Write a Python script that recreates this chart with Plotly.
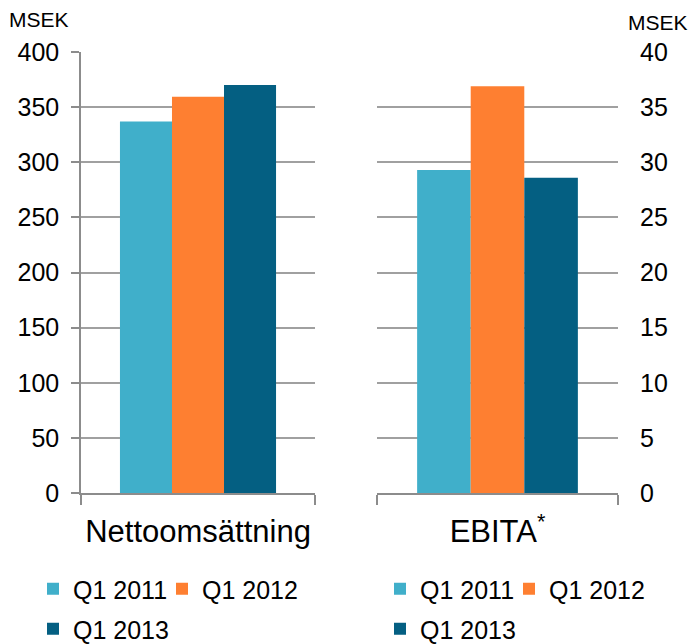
import plotly.graph_objects as go

categories = ["Nettoomsättning", "EBITA<sup>*</sup>"]
series = ["Q1 2011", "Q1 2012", "Q1 2013"]
netto_values = [337, 359.5, 370]
ebita_values = [29.3, 36.9, 28.6]
colors = ["#40AFCA", "#FE7F31", "#045F82"]
left_ticks = [0, 50, 100, 150, 200, 250, 300, 350, 400]
right_ticks = [0, 5, 10, 15, 20, 25, 30, 35, 40]

W, H = 690, 644
FONT = "Liberation Sans, Arial, sans-serif"
GRID = "#a0a0a0"
AXIS = "#8c8c8c"

fig = go.Figure()

left_legends = ["legend", "legend2", "legend3"]
right_legends = ["legend4", "legend5", "legend6"]

for i, name in enumerate(series):
    fig.add_trace(go.Bar(
        x=[categories[0]], y=[netto_values[i]], name=name,
        marker=dict(color=colors[i], line=dict(width=0)),
        xaxis="x", yaxis="y", legend=left_legends[i],
    ))
for i, name in enumerate(series):
    fig.add_trace(go.Bar(
        x=[categories[1]], y=[ebita_values[i]], name=name,
        marker=dict(color=colors[i], line=dict(width=0)),
        xaxis="x2", yaxis="y2", legend=right_legends[i],
    ))

ydom = [1 - 493 / H, 1 - 52 / H]


def leg(xpx, ypx):
    return dict(orientation="h", xref="paper", yref="paper",
                x=xpx / W, y=1 - ypx / H, xanchor="left", yanchor="middle",
                font=dict(size=25, family=FONT, color="#000"),
                bgcolor="rgba(0,0,0,0)", borderwidth=0)


ROW1, ROW2 = 589, 629

fig.update_layout(
    width=W, height=H,
    margin=dict(l=0, r=0, t=0, b=0, autoexpand=False),
    paper_bgcolor="white", plot_bgcolor="white",
    template="none",
    font=dict(family=FONT, color="#000000"),
    barmode="group", bargap=0.333, bargroupgap=0,
    showlegend=True,
    xaxis=dict(
        domain=[81 / W, 315 / W], anchor="y", type="category",
        showline=True, linecolor=AXIS, linewidth=1.5,
        ticks="outside", tickson="boundaries", ticklen=10, tickwidth=1.5, tickcolor=AXIS,
        ticklabelstandoff=10, tickangle=0,
        tickfont=dict(size=31, family=FONT, color="#000"),
        showgrid=False, automargin=False, fixedrange=True,
    ),
    yaxis=dict(
        domain=ydom, anchor="x", range=[0, 400],
        tickmode="array", tickvals=left_ticks, ticktext=[str(v) for v in left_ticks],
        showline=True, linecolor=AXIS, linewidth=1.5,
        ticks="outside", ticklen=8, tickwidth=1.5, tickcolor=AXIS,
        ticklabelstandoff=7,
        showgrid=True, gridcolor=GRID, gridwidth=1.5, zeroline=False,
        tickfont=dict(size=25, family=FONT, color="#000"),
        automargin=False, fixedrange=True,
    ),
    xaxis2=dict(
        domain=[377 / W, 618 / W], anchor="y2", type="category",
        showline=True, linecolor=AXIS, linewidth=1.5,
        ticks="outside", tickson="boundaries", ticklen=10, tickwidth=1.5, tickcolor=AXIS,
        ticklabelstandoff=10, tickangle=0,
        tickfont=dict(size=31, family=FONT, color="#000"),
        showgrid=False, automargin=False, fixedrange=True,
    ),
    yaxis2=dict(
        domain=ydom, anchor="x2", side="right", range=[0, 40],
        tickmode="array", tickvals=right_ticks, ticktext=[str(v) for v in right_ticks],
        showline=False, ticks="outside", ticklen=16, tickcolor="rgba(0,0,0,0)",
        showgrid=True, gridcolor=GRID, gridwidth=1.5, zeroline=False,
        tickfont=dict(size=25, family=FONT, color="#000"),
        automargin=False, fixedrange=True,
    ),
    yaxis3=dict(
        domain=ydom, anchor="x2", overlaying="y2", side="left", range=[0, 40],
        showline=True, linecolor=AXIS, linewidth=1.5,
        ticks="", showticklabels=False, showgrid=False, zeroline=False,
        automargin=False, fixedrange=True,
    ),
    legend=leg(33, ROW1),
    legend2=leg(162, ROW1),
    legend3=leg(33, ROW2),
    legend4=leg(380, ROW1),
    legend5=leg(509, ROW1),
    legend6=leg(380, ROW2),
    annotations=[
        dict(text="MSEK", xref="paper", yref="paper", x=7 / W, y=1 - 20 / H,
             xanchor="left", yanchor="middle", showarrow=False,
             font=dict(size=21, family=FONT, color="#000")),
        dict(text="MSEK", xref="paper", yref="paper", x=626 / W, y=1 - 22 / H,
             xanchor="left", yanchor="middle", showarrow=False,
             font=dict(size=21, family=FONT, color="#000")),
    ],
)

fig.write_html(
    "out.html",
    config={"displayModeBar": False},
    post_script="document.body.style.margin='0';document.body.style.overflow='hidden';",
)
